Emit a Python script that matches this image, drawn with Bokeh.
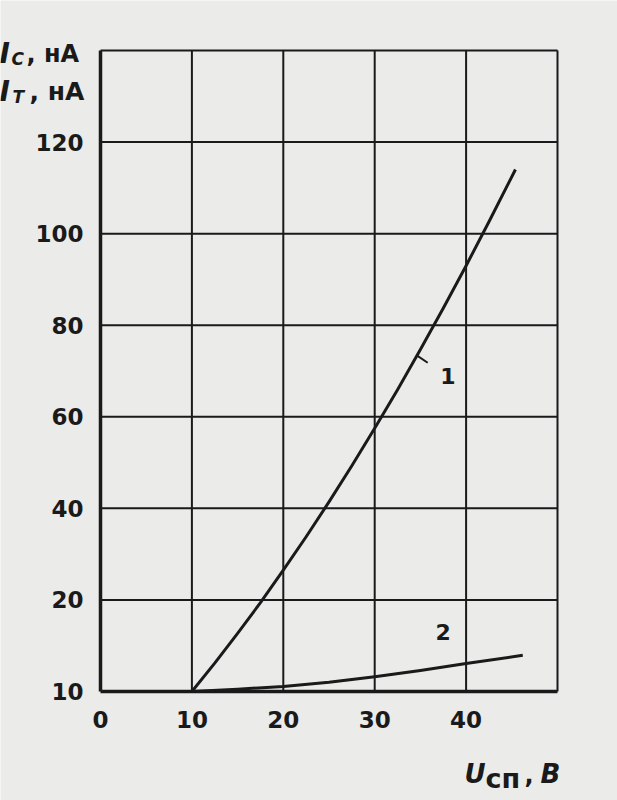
from bokeh.plotting import figure
from bokeh.models import Label, ColumnDataSource, Range1d
from bokeh.core.properties import value
from bokeh.embed import file_html
from bokeh.resources import INLINE

# ---- data ----
x_ticks = [0, 10, 20, 30, 40]
x_tick_labels = ["0", "10", "20", "30", "40"]
y_ticks = [0, 20, 40, 60, 80, 100, 120]
y_tick_labels = ["10", "20", "40", "60", "80", "100", "120"]
x_grid = [10, 20, 30, 40]
y_grid = [20, 40, 60, 80, 100, 120]
x_limits = [0, 50]
y_limits = [0, 140]

curve1_u = [10, 12.5, 15, 17.5, 20, 22.5, 25, 27.5, 30, 32.5, 35, 37.5, 40, 42.5, 45.4]
curve1_i = [0, 6.2, 12.7, 19.4, 26.5, 33.8, 41.4, 49.3, 57.5, 65.9, 74.7, 83.7, 93.0, 102.6, 114]

curve2_u = [10, 15, 20, 25, 30, 35, 40, 46.2]
curve2_i = [0, 0.5, 1.1, 2.0, 3.2, 4.6, 6.1, 7.9]

leader1_u = [34.6, 35.8]
leader1_i = [73.4, 71.8]

curve_labels = ["1", "2"]
curve_label_u = [38.0, 37.5]
curve_label_i = [69.0, 12.9]

FONT = "DejaVu Sans"
INK = "#1a1a1a"
PAPER = "#ebebea"

W, H = 617, 800
# plot box in page pixels: left 100, right 557, top 50, bottom 691
kx = (557 - 100) / (x_limits[1] - x_limits[0])
ky = (691 - 50) / (y_limits[1] - y_limits[0])
x_range = Range1d(x_limits[0] - 100 / kx, x_limits[1] + (W - 557) / kx)
y_range = Range1d(y_limits[0] - (H - 691) / ky, y_limits[1] + 50 / ky)

p = figure(width=W, height=H, output_backend="svg", toolbar_location=None,
           x_range=x_range, y_range=y_range, x_axis_type=None, y_axis_type=None,
           min_border=0, min_border_left=0, min_border_right=0, min_border_top=0, min_border_bottom=0)
p.background_fill_color = PAPER
p.border_fill_color = PAPER
p.outline_line_color = None

# inner grid
n = len(x_grid)
p.segment(x0=x_grid, y0=[y_limits[0]] * n, x1=x_grid, y1=[y_limits[1]] * n,
          line_color=INK, line_width=2)
m = len(y_grid)
p.segment(x0=[x_limits[0]] * m, y0=y_grid, x1=[x_limits[1]] * m, y1=y_grid,
          line_color=INK, line_width=2)
# box: thinner top/right edges, thick axes on the left/bottom
p.segment(x0=[x_limits[1], x_limits[0]], y0=[y_limits[0], y_limits[1]],
          x1=[x_limits[1], x_limits[1]], y1=[y_limits[1], y_limits[1]],
          line_color=INK, line_width=2)
p.segment(x0=[x_limits[0], x_limits[0]], y0=[y_limits[0], y_limits[0]],
          x1=[x_limits[0], x_limits[1]], y1=[y_limits[1], y_limits[0]],
          line_color=INK, line_width=3.5)

# curves
p.line(curve1_u, curve1_i, line_color=INK, line_width=3, line_join="round")
p.line(curve2_u, curve2_i, line_color=INK, line_width=3, line_join="round")
p.line(leader1_u, leader1_i, line_color=INK, line_width=2)

src = ColumnDataSource(dict(x=curve_label_u, y=curve_label_i, t=curve_labels))
p.text(x="x", y="y", text="t", source=src, text_font_size="22px", text_font_style="bold",
       text_color=INK, text_align="center", text_baseline="middle", text_font=value(FONT))

# tick labels, positioned through the scales
xt = ColumnDataSource(dict(x=x_ticks, y=[y_limits[0]] * len(x_ticks), t=x_tick_labels))
p.text(x="x", y="y", text="t", source=xt, y_offset=19, text_font=value(FONT),
       text_font_size="23px", text_font_style="bold", text_color=INK,
       text_align="center", text_baseline="top")
yt = ColumnDataSource(dict(x=[x_limits[0]] * len(y_ticks), y=y_ticks, t=y_tick_labels))
p.text(x="x", y="y", text="t", source=yt, x_offset=-17, text_font=value(FONT),
       text_font_size="23px", text_font_style="bold", text_color=INK,
       text_align="right", text_baseline="middle")

def lab(px, py, t, size, style="bold"):
    # px, py: page pixel position of the text start / baseline
    p.add_layout(Label(x=x_limits[0] + (px - 100) / kx, y=y_limits[0] + (691 - py) / ky, text=t,
                       text_font=FONT, text_font_size=size, text_font_style=style,
                       text_color=INK, text_baseline="alphabetic"))

# y-axis title: I_C, нА / I_T, нА
lab(-1, 53, "I", "28px", "bold italic")
lab(11, 58, "C", "17px", "bold italic")
lab(26, 53, ", нА", "24px")
lab(-1, 91, "I", "28px", "bold italic")
lab(12, 96, "T", "17px", "bold italic")
lab(29, 91, ", нА", "25px")

# x-axis title: U_сп, В
lab(464, 773, "U", "26px", "bold italic")
lab(485, 778, "сп", "27px")
lab(524, 773, ",", "24px")
lab(540, 773, "В", "26px", "bold italic")

open("out.html", "w").write(file_html(p, INLINE))
